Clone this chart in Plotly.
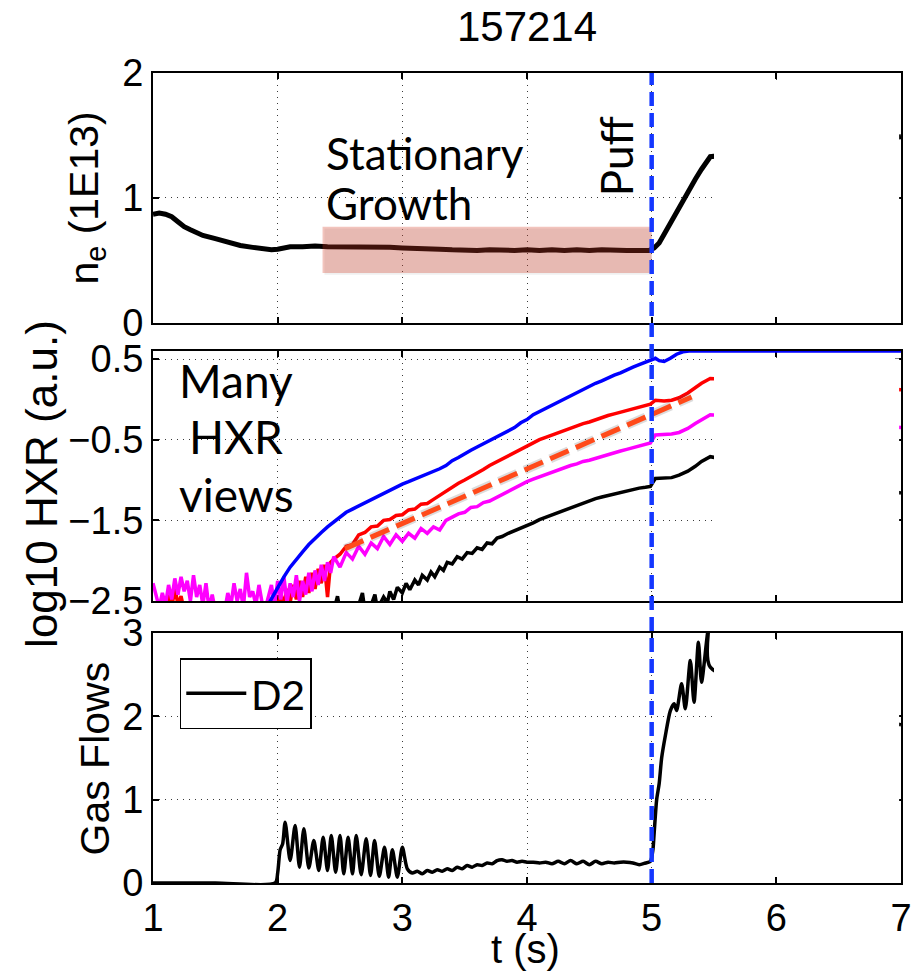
import plotly.graph_objects as go

# ---------------- data ----------------
shot_title = "157214"

x_ticks = [1, 2, 3, 4, 5, 6, 7]
ne_ticks = [0, 1, 2]
hxr_ticks = [-2.5, -1.5, -0.5, 0.5]
hxr_tick_text = ["\u22122.5", "\u22121.5", "\u22120.5", "0.5"]
gas_ticks = [0, 1, 2, 3]

# line-averaged density
ne_t = [1.0, 1.05, 1.1, 1.15, 1.2, 1.25, 1.3, 1.35, 1.4, 1.5, 1.6, 1.7, 1.8, 1.9, 1.95,
        2.0, 2.05, 2.1, 2.2, 2.3, 2.4, 2.5, 2.6, 2.7, 2.8, 2.9, 3.0, 3.1, 3.2, 3.3, 3.4,
        3.5, 3.6, 3.7, 3.8, 3.9, 4.0, 4.1, 4.2, 4.3, 4.4, 4.5, 4.6, 4.7, 4.8, 4.9, 4.98,
        5.02, 5.06, 5.1, 5.15, 5.2, 5.25, 5.3, 5.35, 5.4, 5.47, 7.0]
ne_v = [0.87, 0.88, 0.87, 0.85, 0.81, 0.77, 0.745, 0.72, 0.70, 0.675, 0.645, 0.62, 0.605, 0.59, 0.585,
        0.59, 0.605, 0.61, 0.61, 0.615, 0.61, 0.61, 0.615, 0.61, 0.61, 0.605, 0.60, 0.60, 0.60, 0.59, 0.585,
        0.58, 0.58, 0.585, 0.58, 0.58, 0.585, 0.58, 0.585, 0.58, 0.585, 0.58, 0.585, 0.58, 0.58, 0.58, 0.58,
        0.60, 0.64, 0.71, 0.80, 0.90, 0.99, 1.07, 1.15, 1.23, 1.33, 1.49]

# log10 hard x-ray signals, four chords
hxr_blue_t = [1.0, 1.9, 1.94, 2.0, 2.05, 2.1, 2.15, 2.2, 2.25, 2.3, 2.35, 2.4, 2.45, 2.5, 2.55,
              2.6, 2.65, 2.7, 2.75, 2.8, 2.85, 2.9, 2.95, 3.0, 3.05, 3.1, 3.15, 3.2, 3.25, 3.3,
              3.35, 3.4, 3.45, 3.5, 3.55, 3.6, 3.65, 3.7, 3.75, 3.8, 3.85, 3.9, 3.95, 4.0, 4.05,
              4.1, 4.15, 4.2, 4.25, 4.3, 4.35, 4.4, 4.45, 4.5, 4.55, 4.6, 4.65, 4.7, 4.75, 4.8,
              4.85, 4.9, 4.95, 5.0, 5.03, 5.06, 5.1, 5.15, 5.2, 5.25, 5.3, 5.5, 7.0]
hxr_blue_v = [-2.7, -2.7, -2.5, -2.33, -2.2, -2.08, -1.98, -1.89, -1.8, -1.72, -1.65, -1.58, -1.52, -1.46, -1.40,
              -1.36, -1.32, -1.29, -1.25, -1.21, -1.17, -1.12, -1.08, -1.05, -1.02, -0.99, -0.96, -0.93, -0.90, -0.86,
              -0.82, -0.76, -0.72, -0.67, -0.63, -0.59, -0.55, -0.51, -0.47, -0.44, -0.39, -0.35, -0.29, -0.25, -0.19,
              -0.15, -0.11, -0.07, -0.03, 0.01, 0.04, 0.09, 0.12, 0.17, 0.20, 0.23, 0.27, 0.30, 0.33, 0.37,
              0.40, 0.43, 0.46, 0.49, 0.51, 0.48, 0.47, 0.51, 0.56, 0.59, 0.60, 0.60, 0.60]

hxr_red_t = [1.0, 1.025, 1.05, 1.075, 1.1, 1.125, 1.15, 1.175, 1.2, 1.225, 1.25, 1.275, 1.3, 1.45,
             1.6, 1.75, 1.9, 1.95, 1.975, 2.0, 2.025, 2.05, 2.075, 2.1, 2.125, 2.15, 2.175, 2.2,
             2.225, 2.25, 2.275, 2.3, 2.325, 2.35, 2.375, 2.4, 2.425, 2.45, 2.5, 2.55, 2.6, 2.65,
             2.7, 2.75, 2.8, 2.85, 2.9, 2.95, 3.0, 3.05, 3.1, 3.15, 3.2, 3.25, 3.3, 3.35, 3.4,
             3.45, 3.5, 3.55, 3.6, 3.65, 3.7, 3.75, 3.8, 3.85, 3.9, 3.95, 4.0, 4.05, 4.1, 4.15,
             4.2, 4.25, 4.3, 4.35, 4.4, 4.45, 4.5, 4.55, 4.6, 4.65, 4.7, 4.75, 4.8, 4.85, 4.9,
             4.95, 4.99, 5.03, 5.1, 5.16, 5.22, 5.29, 5.35, 5.4, 5.47, 7.0]
hxr_red_v = [-2.65, -2.7, -2.62, -2.68, -2.58, -2.42, -2.6, -2.32, -2.55, -2.44, -2.62, -2.7, -2.68, -2.64,
             -2.7, -2.66, -2.62, -2.55, -2.45, -2.58, -2.4, -2.55, -2.35, -2.52, -2.3, -2.48, -2.25, -2.45,
             -2.2, -2.4, -2.15, -2.35, -2.1, -2.28, -2.05, -2.45, -2.02, -1.98, -1.92, -1.82, -1.80, -1.68,
             -1.65, -1.58, -1.57, -1.50, -1.49, -1.44, -1.43, -1.37, -1.36, -1.30, -1.29, -1.24, -1.19, -1.13, -1.09,
             -1.04, -1.00, -0.96, -0.92, -0.87, -0.82, -0.78, -0.74, -0.70, -0.66, -0.61, -0.58, -0.54, -0.50, -0.47,
             -0.44, -0.42, -0.39, -0.36, -0.33, -0.30, -0.28, -0.25, -0.22, -0.20, -0.18, -0.16, -0.14, -0.12, -0.10,
             -0.08, -0.06, -0.01, -0.02, -0.01, 0.02, 0.08, 0.15, 0.20, 0.26, 0.12]

hxr_mag_t = [1.0, 1.025, 1.05, 1.075, 1.1, 1.125, 1.15, 1.175, 1.2, 1.225, 1.25, 1.275, 1.3, 1.325,
             1.35, 1.375, 1.4, 1.425, 1.45, 1.475, 1.5, 1.525, 1.55, 1.575, 1.6, 1.625, 1.65, 1.675,
             1.7, 1.725, 1.75, 1.775, 1.8, 1.825, 1.85, 1.875, 1.9, 1.925, 1.95, 1.975, 2.0, 2.025,
             2.05, 2.075, 2.1, 2.125, 2.15, 2.175, 2.2, 2.225, 2.25, 2.275, 2.3, 2.325, 2.35, 2.375,
             2.4, 2.425, 2.45, 2.5, 2.55, 2.6, 2.65, 2.7, 2.75, 2.8, 2.85, 2.9, 2.95, 3.0, 3.05,
             3.1, 3.15, 3.2, 3.25, 3.3, 3.35, 3.4, 3.45, 3.5, 3.55, 3.6, 3.65, 3.7, 3.75, 3.8,
             3.85, 3.9, 3.95, 4.0, 4.05, 4.1, 4.15, 4.2, 4.25, 4.3, 4.35, 4.4, 4.45, 4.5, 4.55,
             4.6, 4.65, 4.7, 4.75, 4.8, 4.85, 4.9, 4.95, 4.99, 5.03, 5.1, 5.16, 5.22, 5.29, 5.35,
             5.4, 5.47, 7.0]
hxr_mag_v = [-2.28, -2.45, -2.58, -2.40, -2.55, -2.30, -2.48, -2.22, -2.42, -2.20, -2.38, -2.25, -2.50, -2.18,
             -2.45, -2.30, -2.55, -2.28, -2.60, -2.42, -2.62, -2.65, -2.58, -2.62, -2.40, -2.55, -2.28, -2.50,
             -2.35, -2.58, -2.15, -2.45, -2.38, -2.55, -2.30, -2.52, -2.60, -2.45, -2.30, -2.55, -2.25, -2.48,
             -2.20, -2.52, -2.28, -2.45, -2.18, -2.50, -2.25, -2.42, -2.15, -2.38, -2.12, -2.30, -2.05, -2.25,
             -2.02, -2.15, -1.95, -2.08, -1.90, -1.98, -1.82, -1.92, -1.78, -1.85, -1.70, -1.80, -1.68, -1.76, -1.66,
             -1.72, -1.60, -1.66, -1.58, -1.62, -1.50, -1.46, -1.42, -1.40, -1.34, -1.33, -1.28, -1.26, -1.22, -1.18,
             -1.13, -1.10, -1.06, -1.02, -0.99, -0.96, -0.93, -0.90, -0.88, -0.85, -0.82, -0.80, -0.77, -0.755, -0.73,
             -0.71, -0.68, -0.66, -0.64, -0.62, -0.60, -0.58, -0.56, -0.54, -0.44, -0.44, -0.43, -0.41, -0.36, -0.30,
             -0.25, -0.19, -0.35]

hxr_blk_t = [1.0, 2.4, 2.45, 2.48, 2.5, 2.6, 2.65, 2.68, 2.7, 2.75, 2.78, 2.8, 2.85, 2.88, 2.9,
             2.93, 2.96, 3.0, 3.03, 3.06, 3.1, 3.13, 3.16, 3.2, 3.23, 3.26, 3.3, 3.33, 3.36, 3.4,
             3.44, 3.48, 3.52, 3.56, 3.6, 3.64, 3.68, 3.72, 3.76, 3.8, 3.85, 3.9, 3.95, 4.0, 4.05,
             4.1, 4.15, 4.2, 4.25, 4.3, 4.35, 4.4, 4.45, 4.5, 4.55, 4.6, 4.65, 4.7, 4.75, 4.8,
             4.85, 4.9, 4.95, 4.99, 5.03, 5.1, 5.16, 5.22, 5.29, 5.35, 5.4, 5.47, 7.0]
hxr_blk_v = [-2.7, -2.7, -2.62, -2.44, -2.62, -2.65, -2.55, -2.40, -2.62, -2.55, -2.42, -2.60, -2.45, -2.52, -2.38,
             -2.48, -2.33, -2.40, -2.28, -2.36, -2.24, -2.30, -2.18, -2.24, -2.14, -2.20, -2.08, -2.12, -2.02, -2.04,
             -1.95, -1.98, -1.90, -1.91, -1.84, -1.86, -1.78, -1.79, -1.72, -1.70, -1.66, -1.63, -1.60, -1.56, -1.53,
             -1.49, -1.46, -1.43, -1.40, -1.37, -1.34, -1.31, -1.28, -1.25, -1.23, -1.21, -1.19, -1.17, -1.15, -1.13,
             -1.12, -1.10, -1.09, -1.08, -0.98, -0.98, -0.97, -0.94, -0.89, -0.83, -0.77, -0.71, -1.16]

# exponential-growth guide line
fit_t = [2.54, 5.32]
fit_v = [-1.85, 0.03]

# D2 gas flow
gas_t = [1.0, 1.5, 1.98, 2.0, 2.02, 2.04, 2.06, 2.1, 2.14, 2.175, 2.21, 2.25, 2.29, 2.33, 2.365,
         2.4, 2.43, 2.465, 2.5, 2.53, 2.565, 2.6, 2.63, 2.67, 2.71, 2.745, 2.777, 2.815, 2.857, 2.89,
         2.92, 2.96, 3.0, 3.04, 3.08, 3.12, 3.16, 3.2, 3.24, 3.28, 3.32, 3.36, 3.4, 3.44, 3.48,
         3.52, 3.56, 3.6, 3.64, 3.68, 3.72, 3.76, 3.8, 3.84, 3.88, 3.92, 3.96, 4.0, 4.05, 4.1,
         4.15, 4.2, 4.25, 4.3, 4.35, 4.4, 4.45, 4.5, 4.55, 4.6, 4.65, 4.7, 4.75, 4.8, 4.85,
         4.9, 4.95, 4.99, 5.01, 5.02, 5.04, 5.06, 5.08, 5.11, 5.15, 5.18, 5.2, 5.24, 5.27, 5.31,
         5.34, 5.375, 5.40, 5.455, 5.47, 7.0]
gas_v = [0.0, 0.0, 0.0, 0.12, 0.40, 0.47, 0.73, 0.27, 0.69, 0.19, 0.65, 0.18, 0.51, 0.15, 0.55,
         0.15, 0.57, 0.13, 0.57, 0.11, 0.55, 0.11, 0.57, 0.10, 0.53, 0.09, 0.51, 0.08, 0.43, 0.07,
         0.40, 0.07, 0.43, 0.17, 0.12, 0.14, 0.11, 0.15, 0.13, 0.16, 0.14, 0.17, 0.15, 0.19, 0.17,
         0.21, 0.19, 0.22, 0.21, 0.24, 0.23, 0.27, 0.28, 0.26, 0.27, 0.25, 0.26, 0.25, 0.25, 0.24,
         0.25, 0.23, 0.26, 0.23, 0.27, 0.23, 0.26, 0.22, 0.26, 0.23, 0.25, 0.24, 0.25, 0.25, 0.24,
         0.22, 0.24, 0.26, 0.40, 0.60, 1.00, 1.19, 1.50, 1.77, 2.07, 2.15, 2.07, 2.39, 2.09, 2.67,
         2.17, 2.89, 2.41, 3.05, 2.59, 1.90]

# ---------------- figure ----------------
W, H = 924, 973
ML, MR, MT, MB = 153, 17, 73, 90

SANS = "Liberation Sans, Arial, Helvetica, sans-serif"
NOTE = "Lato, Noto Sans, sans-serif"

dom_top = [0.6914, 1.0]
dom_mid = [0.3481, 0.6568]
dom_bot = [0.0, 0.3086]

fig = go.Figure()

# n_e panel
fig.add_trace(go.Scatter(x=ne_t, y=ne_v, mode="lines", xaxis="x", yaxis="y",
                         line=dict(color="black", width=5), showlegend=False))

# HXR panel
fig.add_trace(go.Scatter(x=hxr_blk_t, y=hxr_blk_v, mode="lines", xaxis="x2", yaxis="y2",
                         line=dict(color="black", width=3.5), showlegend=False))
fig.add_trace(go.Scatter(x=hxr_red_t, y=hxr_red_v, mode="lines", xaxis="x2", yaxis="y2",
                         line=dict(color="#ff0000", width=3.5), showlegend=False))
fig.add_trace(go.Scatter(x=hxr_mag_t, y=hxr_mag_v, mode="lines", xaxis="x2", yaxis="y2",
                         line=dict(color="#ff00ff", width=3.5), showlegend=False))
fig.add_trace(go.Scatter(x=hxr_blue_t, y=hxr_blue_v, mode="lines", xaxis="x2", yaxis="y2",
                         line=dict(color="#0000ff", width=3.5), showlegend=False))
# guide line with a soft shadow
fig.add_trace(go.Scatter(x=fit_t, y=fit_v, mode="lines", xaxis="x2", yaxis="y2",
                         line=dict(color="rgba(60,60,60,0.18)", width=9, dash="20px,8px"),
                         showlegend=False, hoverinfo="skip"))
fig.add_trace(go.Scatter(x=fit_t, y=fit_v, mode="lines", xaxis="x2", yaxis="y2",
                         line=dict(color="#ff4a1a", width=5, dash="20px,8px"), showlegend=False))

# gas panel
fig.add_trace(go.Scatter(x=gas_t, y=gas_v, mode="lines", xaxis="x3", yaxis="y3", name="D2",
                         line=dict(color="black", width=3.5, shape="spline", smoothing=0.7),
                         showlegend=True))

axis_common = dict(showline=True, linecolor="black", linewidth=2, mirror="ticks",
                   ticks="inside", ticklen=6, tickwidth=1.5, tickcolor="black",
                   showgrid=True, gridcolor="#3a3a3a", griddash="1px,5px", gridwidth=1,
                   zeroline=False, tickfont=dict(family=SANS, size=38, color="black"))

xcommon = dict(axis_common, range=[1, 7], tickmode="array", tickvals=x_ticks)

fig.update_layout(
    width=W, height=H,
    margin=dict(l=ML, r=MR, t=MT, b=MB),
    paper_bgcolor="white", plot_bgcolor="white",
    title=dict(text=shot_title, x=0.5, xref="paper", y=1 - 26 / H, yref="container",
               xanchor="center", yanchor="middle",
               font=dict(family=SANS, size=42, color="black")),
    xaxis=dict(xcommon, domain=[0, 1], anchor="y", showticklabels=False),
    yaxis=dict(axis_common, domain=dom_top, anchor="x", range=[0, 2],
               tickmode="array", tickvals=ne_ticks),
    xaxis2=dict(xcommon, domain=[0, 1], anchor="y2", showticklabels=False, layer="below traces"),
    yaxis2=dict(axis_common, domain=dom_mid, anchor="x2", range=[-2.5, 0.6],
                tickmode="array", tickvals=hxr_ticks, ticktext=hxr_tick_text,
                layer="below traces"),
    xaxis3=dict(xcommon, domain=[0, 1], anchor="y3", showticklabels=True),
    yaxis3=dict(axis_common, domain=dom_bot, anchor="x3", range=[0, 3],
                tickmode="array", tickvals=gas_ticks),
    legend=dict(x=(180 - ML) / (W - ML - MR), y=(883 - 658) / (H - MT - MB),
                xanchor="left", yanchor="top", bgcolor="white",
                bordercolor="black", borderwidth=1.5, itemwidth=60,
                font=dict(family=SANS, size=42, color="black")),
)

pw = W - ML - MR
ph = H - MT - MB


def px_x(p):
    return (p - ML) / pw


def px_y(p):
    return (H - MB - p) / ph


label_font = dict(family=SANS, size=41, color="black")
note_font = dict(family=NOTE, size=44, color="black")

annotations = [
    # axis titles
    dict(text="n<sub>e</sub> (1E13)", x=px_x(86), y=sum(dom_top) / 2, xref="paper", yref="paper",
         textangle=-90, showarrow=False, font=label_font, xanchor="center", yanchor="middle"),
    dict(text="log10 HXR (a.u.)", x=px_x(40), y=px_y(484), xref="paper", yref="paper",
         textangle=-90, showarrow=False, font=dict(label_font, size=44),
         xanchor="center", yanchor="middle"),
    dict(text="Gas Flows", x=px_x(95), y=sum(dom_bot) / 2, xref="paper", yref="paper",
         textangle=-90, showarrow=False, font=label_font, xanchor="center", yanchor="middle"),
    # time-axis title, its box resting on the bottom edge of the page
    dict(text="t (s)", x=px_x(528), y=px_y(H), xref="paper", yref="paper",
         showarrow=False, font=dict(label_font, size=40), xanchor="center", yanchor="bottom"),
    # notes
    dict(text="Stationary", x=2.37, y=1.36, xref="x", yref="y", showarrow=False,
         font=note_font, xanchor="left", yanchor="middle"),
    dict(text="Growth", x=2.37, y=0.96, xref="x", yref="y", showarrow=False,
         font=note_font, xanchor="left", yanchor="middle"),
    dict(text="Puff", x=4.71, y=1.33, xref="x", yref="y", showarrow=False, textangle=-90,
         font=note_font, xanchor="center", yanchor="middle"),
    dict(text="Many", x=1.667, y=0.24, xref="x2", yref="y2", showarrow=False,
         font=dict(note_font, size=46), xanchor="center", yanchor="middle"),
    dict(text="HXR", x=1.667, y=-0.46, xref="x2", yref="y2", showarrow=False,
         font=dict(note_font, size=46), xanchor="center", yanchor="middle"),
    dict(text="views", x=1.667, y=-1.18, xref="x2", yref="y2", showarrow=False,
         font=dict(note_font, size=46), xanchor="center", yanchor="middle"),
]

shapes = [
    # shadow under the stationary-growth window
    dict(type="rect", xref="x", yref="y", x0=2.375, x1=5.0, y0=0.385, y1=0.755,
         fillcolor="rgba(0,0,0,0.06)", line=dict(width=0), layer="below"),
    # stationary-growth window
    dict(type="rect", xref="x", yref="y", x0=2.36, x1=5.0, y0=0.40, y1=0.77,
         fillcolor="rgba(212,58,38,0.30)", line=dict(width=0), layer="above"),
]
# blank the late-time part of every panel
for xr, yr in (("x", "y domain"), ("x2", "y2 domain"), ("x3", "y3 domain")):
    shapes.append(dict(type="rect", xref=xr, yref=yr, x0=5.5, x1=6.985, y0=0.03, y1=0.97,
                       fillcolor="white", line=dict(width=0), layer="above"))
# gas puff time
shapes.append(dict(type="line", xref="x3", yref="paper", x0=5.0, x1=5.0, y0=0, y1=1,
                   line=dict(color="rgb(20,55,255)", width=4.5, dash="14px,7px"), layer="above"))

fig.update_layout(annotations=annotations, shapes=shapes)

fig.write_html("out.html")
